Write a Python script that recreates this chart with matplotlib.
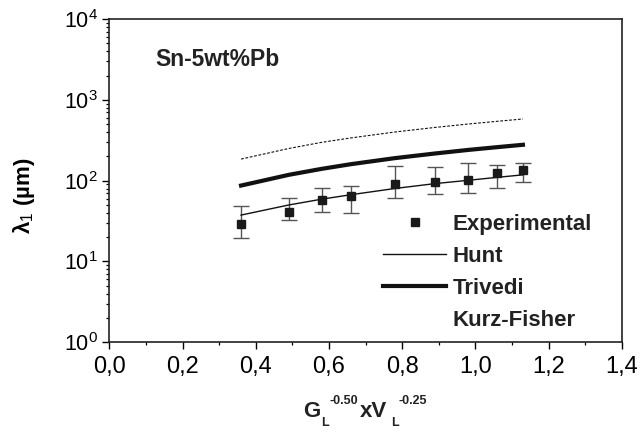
import numpy as np
import matplotlib
matplotlib.use("Agg")
import matplotlib.pyplot as plt
from matplotlib.ticker import FixedLocator, FuncFormatter, LogLocator, NullFormatter, MultipleLocator

plt.rcParams['font.family'] = ['Liberation Sans', 'DejaVu Sans']
plt.rcParams['mathtext.fontset'] = 'custom'
plt.rcParams['mathtext.rm'] = 'Liberation Sans'
plt.rcParams['mathtext.it'] = 'Liberation Sans:italic'
plt.rcParams['mathtext.bf'] = 'Liberation Sans:bold'

# Experimental data
x_exp = [0.36, 0.49, 0.58, 0.66, 0.78, 0.89, 0.98, 1.06, 1.13]
y_exp = [29, 41, 58, 65, 91, 97, 102, 123, 136]
y_upper = [48, 61, 82, 87, 152, 146, 164, 158, 164]
y_lower = [19.4, 32.6, 40.6, 40.2, 61.6, 68.4, 69.8, 81.9, 97.2]

# Model curves
x_model = [0.36, 0.49, 0.58, 0.66, 0.78, 0.89, 0.98, 1.06, 1.13]
y_hunt = [37.5, 50, 59, 67, 80, 92, 101, 110, 118]
y_trivedi = [87, 118, 140, 160, 190, 217, 240, 260, 278]
y_kurz = [185, 250, 298, 338, 400, 456, 502, 543, 580]

x_ticks = [0.0, 0.2, 0.4, 0.6, 0.8, 1.0, 1.2, 1.4]
y_ticks = [1, 10, 100, 1000, 10000]

W, H = 641, 433
fig = plt.figure(figsize=(W / 100, H / 100), dpi=100)
ax = fig.add_axes([0.1705, 0.2095, 0.7995, 0.7465])

err_lo = np.array(y_exp) - np.array(y_lower)
err_hi = np.array(y_upper) - np.array(y_exp)

ax.errorbar(x_exp, y_exp, yerr=[err_lo, err_hi], fmt='none', ecolor='#555555',
            elinewidth=1.0, capsize=5.5, capthick=1.0, zorder=2)
exp_h, = ax.plot(x_exp, y_exp, 's', color='#1a1a1a', markersize=6, zorder=3,
                 label='Experimental')
hunt_h, = ax.plot(x_model, y_hunt, '-', color='#111111', lw=1.0, label='Hunt')
triv_h, = ax.plot(x_model, y_trivedi, '-', color='#111111', lw=3.0, label='Trivedi')
kurz_h, = ax.plot(x_model, y_kurz, color='#111111', lw=0.8, dashes=(2.5, 1.5),
                  label='Kurz-Fisher')

ax.set_yscale('log')
ax.set_xlim(0, 1.4)
ax.set_ylim(1, 1e4)

ax.xaxis.set_major_locator(FixedLocator(x_ticks))
ax.xaxis.set_minor_locator(MultipleLocator(0.1))
ax.xaxis.set_major_formatter(FuncFormatter(lambda v, p: f"{v:.1f}".replace('.', ',')))
ax.yaxis.set_major_locator(FixedLocator(y_ticks))
ax.yaxis.set_minor_locator(LogLocator(base=10, subs=np.arange(2, 10)))
ax.yaxis.set_minor_formatter(NullFormatter())
ax.yaxis.set_major_formatter(FuncFormatter(lambda v, p: r'$10^{%d}$' % int(round(np.log10(v)))))

ax.tick_params(axis='both', which='major', direction='out', length=5, width=1.0,
               top=False, right=False)
ax.tick_params(axis='both', which='minor', direction='out', length=2.5, width=0.9,
               top=False, right=False)
ax.tick_params(axis='x', which='major', pad=5, labelsize=17)
ax.tick_params(axis='y', which='major', pad=3, labelsize=15.5)
for s in ax.spines.values():
    s.set_linewidth(1.2)
    s.set_color('#222222')

# x-axis label built from pieces (hyphen superscripts, small sub/superscripts)
def ftext(px, py, s, size):
    fig.text(px / W, 1 - py / H, s, fontsize=size, fontweight='bold',
             ha='left', va='baseline', color='#222222')

ftext(303.5, 416.7, 'G', 16)
ftext(321, 426.5, 'L', 9)
ftext(330, 404.5, '-0.50', 9)
ftext(360, 416.7, 'xV', 16)
ftext(391.5, 426.5, 'L', 9)
ftext(398.5, 404.5, '-0.25', 9)

ax.set_ylabel(r'λ$_1$ (µm)', fontsize=16, fontweight='bold')
ax.yaxis.set_label_coords(-0.141, 0.4525)

ax.text(0.09, 0.856, 'Sn-5wt%Pb', transform=ax.transAxes, fontsize=16.5,
        fontweight='bold', va='baseline', ha='left', color='#222222')

leg = ax.legend(handles=[exp_h, hunt_h, triv_h, kurz_h], loc='upper left',
                bbox_to_anchor=(0.534, 0.397), frameon=False,
                prop={'weight': 'bold', 'size': 16}, handlelength=2.85,
                handletextpad=0.3, labelspacing=0.5, borderpad=0, borderaxespad=0)
leg.legend_handles[3].set_visible(False)
for t in leg.get_texts():
    t.set_color('#222222')

fig.savefig('out.png', dpi=100)
